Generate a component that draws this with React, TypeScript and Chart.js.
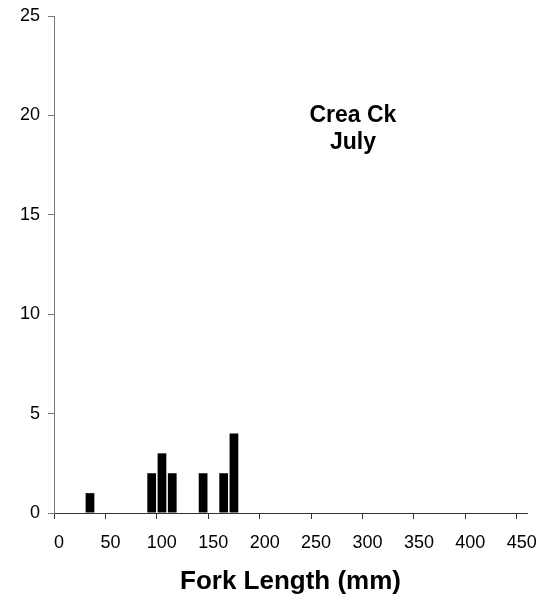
import React, { useEffect, useRef } from "react";
import { Chart, registerables } from "chart.js";

Chart.register(...registerables);

const binCenters = [35, 95, 105, 115, 145, 165, 175];
const counts = [1, 2, 3, 2, 2, 2, 4];
const xTitle = "Fork Length (mm)";
const annotationLines = ["Crea Ck", "July"];

const FONT = "'Liberation Sans', Arial, sans-serif";

const labelPlugin = {
  id: "siteLabel",
  afterDraw(chart: any) {
    const { ctx, chartArea } = chart;
    ctx.save();
    ctx.font = `bold 23px ${FONT}`;
    ctx.fillStyle = "#000";
    ctx.textAlign = "center";
    ctx.textBaseline = "middle";
    const cx = chartArea.left + (chartArea.right - chartArea.left) * 0.632;
    const cy = chartArea.top + (chartArea.bottom - chartArea.top) * 0.2;
    annotationLines.forEach((t, i) => ctx.fillText(t, cx, cy + i * 27));
    ctx.restore();
  },
};

export default function App() {
  const ref = useRef<HTMLCanvasElement>(null);
  useEffect(() => {
    if (!ref.current) return;
    const chart = new Chart(ref.current, {
      type: "bar",
      data: {
        datasets: [
          {
            data: binCenters.map((x, i) => ({ x, y: counts[i] })),
            backgroundColor: "#000",
            borderWidth: 0,
            barPercentage: 0.85,
            categoryPercentage: 1,
          },
        ],
      },
      options: {
        animation: false,
        responsive: true,
        maintainAspectRatio: false,
        layout: { padding: { top: 8, right: 13, left: 0, bottom: 0 } },
        plugins: { legend: { display: false }, tooltip: { enabled: false } },
        scales: {
          x: {
            type: "linear",
            min: 0,
            max: 460,
            offset: false,
            afterBuildTicks: (s: any) => {
              s.ticks = s.ticks.filter((t: any) => t.value % 50 === 0);
            },
            afterFit: (s: any) => {
              s.height = 82;
              s.paddingLeft = 0;
              s.paddingRight = 0;
            },
            ticks: {
              stepSize: 50,
              includeBounds: false,
              font: { family: FONT, size: 18 },
              color: "#000",
              padding: 13,
              labelOffset: 5,
              maxRotation: 0,
              autoSkip: false,
            },
            grid: {
              display: true,
              offset: false,
              drawOnChartArea: false,
              drawTicks: true,
              tickLength: 6,
              color: "#333",
            },
            border: { display: true, color: "#333", width: 1 },
            title: {
              display: true,
              text: xTitle,
              font: { family: FONT, size: 26, weight: "bold", lineHeight: 1 },
              color: "#000",
              padding: { top: 0, bottom: 0 },
            },
          },
          y: {
            min: 0,
            max: 25,
            afterFit: (s: any) => {
              s.width = 46;
              s.paddingTop = 0;
              s.paddingBottom = 0;
            },
            ticks: {
              stepSize: 5,
              font: { family: FONT, size: 18 },
              color: "#000",
              padding: 8,
            },
            grid: {
              display: true,
              offset: false,
              drawOnChartArea: false,
              drawTicks: true,
              tickLength: 6,
              color: "#777",
            },
            border: { display: true, color: "#777", width: 1 },
          },
        },
      },
      plugins: [labelPlugin],
    });
    return () => chart.destroy();
  }, []);
  return (
    <div style={{ width: 532, height: 587, position: "relative" }}>
      <canvas ref={ref} />
    </div>
  );
}
